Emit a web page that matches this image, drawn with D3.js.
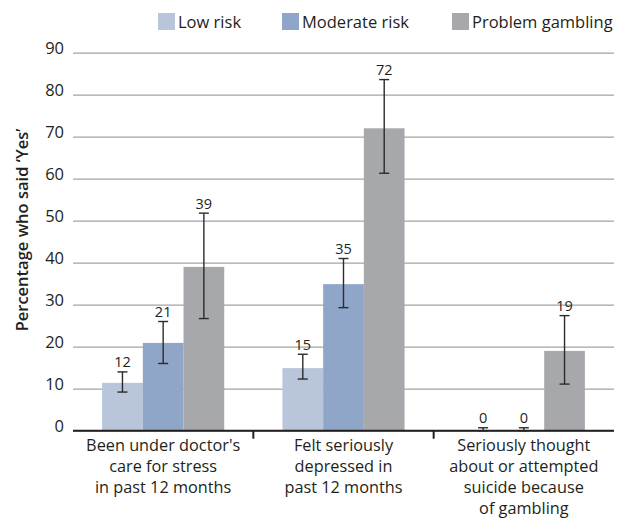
<!doctype html>
<html>
<head>
  <meta charset="utf-8">
  <title>gambling risk chart</title>
  <style>
    body { margin: 0; background: #fff; }
    text { font-family: "Open Sans", sans-serif; fill: #231f20; }
  </style>
</head>
<body>
  <svg id="chart" width="625" height="519"></svg>
  <script src="https://cdn.jsdelivr.net/npm/d3@7"></script>
  <script>

  // data
  const categories = [
    ["Been under doctor's", "care for stress", "in past 12 months"],
    ["Felt seriously", "depressed in", "past 12 months"],
    ["Seriously thought", "about or attempted", "suicide because", "of gambling"]
  ];
  const series = ["Low risk", "Moderate risk", "Problem gambling"];
  const lowRisk      = [11.4, 14.9, 0];
  const moderateRisk = [20.9, 34.9, 0];
  const problemGamb  = [39.0, 72.0, 19.0];
  const lowLabels      = ["12", "15", "0"];
  const moderateLabels = ["21", "35", "0"];
  const problemLabels  = ["39", "72", "19"];
  const lowErr      = [[9.2, 14.0], [12.3, 18.2], [0, 0.7]];
  const moderateErr = [[16.0, 26.0], [29.3, 41.0], [0, 0.7]];
  const problemErr  = [[26.7, 51.8], [61.3, 83.6], [11.1, 27.4]];
  const yTicks = [0, 10, 20, 30, 40, 50, 60, 70, 80, 90];

  const colors = ["#b9c5db", "#8fa6c9", "#a7a8ab"];

  let svg = d3.select("#chart");
  let plotL = 73, plotR = 614, plotT = 52.7, plotB = 430.7;

  let catIdx = categories.map((d, i) => i);
  let x0 = d3.scaleBand().domain(catIdx).range([plotL, plotR]);
  let x1 = d3.scaleBand().domain(series).range([0, x0.bandwidth()])
    .paddingInner(0).paddingOuter(0.715);
  let y = d3.scaleLinear().domain([0, 90]).range([plotB, plotT]);

  // gridlines + tick labels
  let yAxis = svg.append("g")
    .attr("transform", "translate(" + plotL + ",0)")
    .call(d3.axisLeft(y).tickValues(yTicks).tickSize(-(plotR - plotL)).tickPadding(9));
  yAxis.select(".domain").remove();
  yAxis.selectAll(".tick line").attr("stroke", "#a3a3a3").attr("stroke-width", 1.2);
  yAxis.selectAll(".tick text")
    .attr("font-size", 16.5).attr("dy", "0.02em")
    .style("font-family", "'Open Sans', sans-serif").attr("fill", "#231f20");

  // rows of the table
  let rows = catIdx.map(i => [
    {s: series[0], v: lowRisk[i], lab: lowLabels[i], err: lowErr[i], c: colors[0]},
    {s: series[1], v: moderateRisk[i], lab: moderateLabels[i], err: moderateErr[i], c: colors[1]},
    {s: series[2], v: problemGamb[i], lab: problemLabels[i], err: problemErr[i], c: colors[2]}
  ]);

  let groups = svg.append("g").selectAll("g")
    .data(rows)
    .enter().append("g")
    .attr("transform", (d, i) => "translate(" + x0(i) + ",0)");

  groups.selectAll("rect")
    .data(d => d)
    .enter().append("rect")
    .attr("x", d => x1(d.s))
    .attr("width", x1.bandwidth())
    .attr("y", d => y(d.v))
    .attr("height", d => plotB - y(d.v))
    .attr("fill", d => d.c);

  // error bars
  let eb = groups.selectAll(".err")
    .data(d => d)
    .enter().append("g").attr("class", "err")
    .attr("stroke", "#2b2b2b").attr("stroke-width", 1.4);
  let cx = d => x1(d.s) + x1.bandwidth() / 2;
  eb.append("line")
    .attr("x1", cx).attr("x2", cx)
    .attr("y1", d => y(d.err[0])).attr("y2", d => y(d.err[1]));
  eb.append("line")
    .attr("x1", d => cx(d) - 5).attr("x2", d => cx(d) + 5)
    .attr("y1", d => y(d.err[1])).attr("y2", d => y(d.err[1]));
  eb.append("line")
    .attr("x1", d => cx(d) - 5).attr("x2", d => cx(d) + 5)
    .attr("y1", d => y(d.err[0])).attr("y2", d => y(d.err[0]));

  // value labels
  groups.selectAll(".val")
    .data(d => d)
    .enter().append("text").attr("class", "val")
    .attr("x", cx)
    .attr("y", d => y(d.err[1]) - 4.5)
    .attr("text-anchor", "middle")
    .attr("font-size", 14.5)
    .text(d => d.lab);

  // x axis line and separators
  svg.append("line")
    .attr("x1", plotL).attr("x2", plotR)
    .attr("y1", plotB).attr("y2", plotB)
    .attr("stroke", "#231f20").attr("stroke-width", 2);
  svg.selectAll(".sep")
    .data(catIdx.slice(1))
    .enter().append("line").attr("class", "sep")
    .attr("x1", d => x0(d)).attr("x2", d => x0(d))
    .attr("y1", plotB).attr("y2", plotB + 8)
    .attr("stroke", "#231f20").attr("stroke-width", 2);

  // category labels
  let catText = svg.selectAll(".cat")
    .data(categories)
    .enter().append("text").attr("class", "cat")
    .attr("text-anchor", "middle")
    .attr("font-size", 16.3);
  catText.selectAll("tspan")
    .data((d, i) => d.map(t => ({t: t, i: i})))
    .enter().append("tspan")
    .attr("x", d => x0(d.i) + x0.bandwidth() / 2)
    .attr("y", (d, j) => 451 + j * 21)
    .text(d => d.t);

  // y title
  svg.append("text")
    .attr("transform", "translate(28,230) rotate(-90)")
    .attr("text-anchor", "middle")
    .attr("font-size", 16.5)
    .attr("font-weight", 600)
    .text("Percentage who said \u2018Yes\u2019");

  // legend
  let legX = [158, 282, 452];
  let leg = svg.selectAll(".leg")
    .data(series)
    .enter().append("g").attr("class", "leg")
    .attr("transform", (d, i) => "translate(" + legX[i] + ",13)");
  leg.append("rect").attr("width", 17).attr("height", 17).attr("fill", (d, i) => colors[i]);
  leg.append("text").attr("x", 20).attr("y", 14.5).attr("font-size", 16.5).text(d => d);

  </script>
</body>
</html>
